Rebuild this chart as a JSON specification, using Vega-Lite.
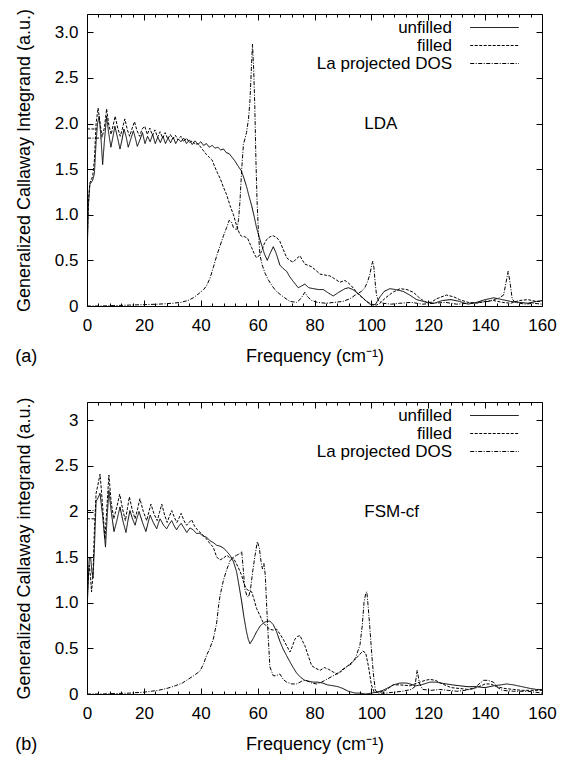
{
  "$schema": "https://vega.github.io/schema/vega-lite/v6.json",
  "padding": {"left": 14, "top": 7, "right": 5, "bottom": 3},
  "spacing": 29,
  "resolve": {"scale": {"strokeDash": "independent"}, "legend": {"strokeDash": "independent"}},
  "config": {
    "font": "Liberation Sans",
    "view": {"stroke": "black", "strokeWidth": 1},
    "axis": {"grid": false, "domain": false, "labelFont": "Liberation Sans", "labelFontSize": 17, "labelColor": "black", "titleFont": "Liberation Sans", "titleFontSize": 18, "titleFontWeight": "normal", "titleColor": "black", "tickColor": "black", "tickWidth": 1},
    "legend": {"orient": "none", "legendX": 399, "legendY": 5, "padding": 0, "symbolType": "M-5.4,0H5.4", "symbolSize": 81, "symbolStrokeWidth": 1, "symbolStrokeColor": "black", "symbolFillColor": "transparent", "symbolOpacity": 1, "labelAlign": "right", "labelOffset": -51, "labelFont": "Liberation Sans", "labelFontSize": 17, "labelColor": "black", "labelLimit": 400, "rowPadding": 0},
    "title": {"font": "Liberation Sans", "fontSize": 18, "fontWeight": "normal", "color": "black"}
  },
  "datasets": {
    "a": [
      {"s":"r1","f":0,"v":1.94},{"s":"r1","f":3.5,"v":1.94},
      {"s":"r2","f":0,"v":1.84},{"s":"r2","f":5,"v":1.84},
      {"s":"unfilled","f":0,"v":0.5},{"s":"unfilled","f":0.5,"v":1.1},{"s":"unfilled","f":1,"v":1.33},{"s":"unfilled","f":2,"v":1.38},{"s":"unfilled","f":2.6,"v":1.45},{"s":"unfilled","f":3.2,"v":1.8},{"s":"unfilled","f":3.7,"v":2.0},{"s":"unfilled","f":4.3,"v":2.08},{"s":"unfilled","f":4.9,"v":1.85},{"s":"unfilled","f":5.5,"v":1.55},{"s":"unfilled","f":6.1,"v":1.8},{"s":"unfilled","f":6.9,"v":2.08},{"s":"unfilled","f":7.6,"v":1.9},{"s":"unfilled","f":8.4,"v":1.74},{"s":"unfilled","f":9.1,"v":1.85},{"s":"unfilled","f":9.8,"v":1.97},{"s":"unfilled","f":10.7,"v":1.85},{"s":"unfilled","f":11.6,"v":1.72},{"s":"unfilled","f":12.3,"v":1.82},{"s":"unfilled","f":13.0,"v":1.94},{"s":"unfilled","f":13.8,"v":1.85},{"s":"unfilled","f":14.5,"v":1.74},{"s":"unfilled","f":15.4,"v":1.83},{"s":"unfilled","f":16.3,"v":1.92},{"s":"unfilled","f":17.0,"v":1.84},{"s":"unfilled","f":17.7,"v":1.75},{"s":"unfilled","f":18.6,"v":1.82},{"s":"unfilled","f":19.5,"v":1.9},{"s":"unfilled","f":20.4,"v":1.78},{"s":"unfilled","f":21.3,"v":1.86},{"s":"unfilled","f":22.2,"v":1.8},{"s":"unfilled","f":23.1,"v":1.88},{"s":"unfilled","f":24.0,"v":1.78},{"s":"unfilled","f":24.9,"v":1.85},{"s":"unfilled","f":25.8,"v":1.79},{"s":"unfilled","f":26.7,"v":1.86},{"s":"unfilled","f":27.6,"v":1.78},{"s":"unfilled","f":28.5,"v":1.84},{"s":"unfilled","f":29.4,"v":1.79},{"s":"unfilled","f":30.3,"v":1.85},{"s":"unfilled","f":31.2,"v":1.78},{"s":"unfilled","f":32.1,"v":1.83},{"s":"unfilled","f":33,"v":1.8},{"s":"unfilled","f":34,"v":1.84},{"s":"unfilled","f":35,"v":1.78},{"s":"unfilled","f":36,"v":1.82},{"s":"unfilled","f":37,"v":1.77},{"s":"unfilled","f":38,"v":1.81},{"s":"unfilled","f":39,"v":1.77},{"s":"unfilled","f":40,"v":1.8},{"s":"unfilled","f":41,"v":1.76},{"s":"unfilled","f":42,"v":1.78},{"s":"unfilled","f":43,"v":1.74},{"s":"unfilled","f":44,"v":1.76},{"s":"unfilled","f":45,"v":1.73},{"s":"unfilled","f":46,"v":1.74},{"s":"unfilled","f":47,"v":1.71},{"s":"unfilled","f":48,"v":1.72},{"s":"unfilled","f":49,"v":1.68},{"s":"unfilled","f":50,"v":1.67},{"s":"unfilled","f":51,"v":1.63},{"s":"unfilled","f":52,"v":1.59},{"s":"unfilled","f":53,"v":1.54},{"s":"unfilled","f":54.3,"v":1.48},{"s":"unfilled","f":55.2,"v":1.4},{"s":"unfilled","f":56.1,"v":1.31},{"s":"unfilled","f":57,"v":1.2},{"s":"unfilled","f":57.9,"v":1.1},{"s":"unfilled","f":58.8,"v":0.98},{"s":"unfilled","f":59.6,"v":0.86},{"s":"unfilled","f":60.5,"v":0.76},{"s":"unfilled","f":61.4,"v":0.67},{"s":"unfilled","f":62.4,"v":0.57},{"s":"unfilled","f":63.4,"v":0.5},{"s":"unfilled","f":64.3,"v":0.57},{"s":"unfilled","f":65.5,"v":0.65},{"s":"unfilled","f":66.5,"v":0.58},{"s":"unfilled","f":67.8,"v":0.45},{"s":"unfilled","f":69,"v":0.41},{"s":"unfilled","f":70.2,"v":0.38},{"s":"unfilled","f":71.3,"v":0.32},{"s":"unfilled","f":72.5,"v":0.27},{"s":"unfilled","f":74.3,"v":0.2},{"s":"unfilled","f":75.5,"v":0.22},{"s":"unfilled","f":76.6,"v":0.24},{"s":"unfilled","f":78,"v":0.2},{"s":"unfilled","f":79.6,"v":0.19},{"s":"unfilled","f":81.5,"v":0.18},{"s":"unfilled","f":83.1,"v":0.18},{"s":"unfilled","f":85,"v":0.14},{"s":"unfilled","f":86.6,"v":0.11},{"s":"unfilled","f":88.5,"v":0.15},{"s":"unfilled","f":90.7,"v":0.19},{"s":"unfilled","f":92,"v":0.2},{"s":"unfilled","f":93.5,"v":0.18},{"s":"unfilled","f":96,"v":0.12},{"s":"unfilled","f":98,"v":0.06},{"s":"unfilled","f":99.5,"v":0.02},{"s":"unfilled","f":100.7,"v":0.01},{"s":"unfilled","f":101.5,"v":0.02},{"s":"unfilled","f":103,"v":0.1},{"s":"unfilled","f":104.5,"v":0.16},{"s":"unfilled","f":106.5,"v":0.19},{"s":"unfilled","f":108.5,"v":0.18},{"s":"unfilled","f":111.2,"v":0.16},{"s":"unfilled","f":113.5,"v":0.12},{"s":"unfilled","f":115.9,"v":0.07},{"s":"unfilled","f":119.4,"v":0.04},{"s":"unfilled","f":122,"v":0.03},{"s":"unfilled","f":125,"v":0.06},{"s":"unfilled","f":128,"v":0.07},{"s":"unfilled","f":131,"v":0.05},{"s":"unfilled","f":134,"v":0.02},{"s":"unfilled","f":137,"v":0.04},{"s":"unfilled","f":140,"v":0.07},{"s":"unfilled","f":143,"v":0.09},{"s":"unfilled","f":146,"v":0.07},{"s":"unfilled","f":149,"v":0.05},{"s":"unfilled","f":152,"v":0.04},{"s":"unfilled","f":155,"v":0.03},{"s":"unfilled","f":158,"v":0.05},{"s":"unfilled","f":160,"v":0.06},
      {"s":"filled","f":0,"v":0.6},{"s":"filled","f":0.5,"v":1.15},{"s":"filled","f":1,"v":1.35},{"s":"filled","f":2,"v":1.42},{"s":"filled","f":2.6,"v":1.6},{"s":"filled","f":3.2,"v":2.0},{"s":"filled","f":3.9,"v":2.17},{"s":"filled","f":4.6,"v":2.0},{"s":"filled","f":5.3,"v":1.85},{"s":"filled","f":6.1,"v":1.95},{"s":"filled","f":6.9,"v":2.16},{"s":"filled","f":7.7,"v":1.98},{"s":"filled","f":8.5,"v":1.88},{"s":"filled","f":9.2,"v":1.98},{"s":"filled","f":9.9,"v":2.08},{"s":"filled","f":10.8,"v":1.95},{"s":"filled","f":11.7,"v":1.86},{"s":"filled","f":12.5,"v":1.95},{"s":"filled","f":13.3,"v":2.05},{"s":"filled","f":14.2,"v":1.93},{"s":"filled","f":15,"v":1.86},{"s":"filled","f":15.9,"v":1.95},{"s":"filled","f":16.7,"v":2.02},{"s":"filled","f":17.6,"v":1.92},{"s":"filled","f":18.5,"v":1.86},{"s":"filled","f":19.4,"v":1.94},{"s":"filled","f":20.3,"v":1.97},{"s":"filled","f":21.2,"v":1.88},{"s":"filled","f":22.1,"v":1.95},{"s":"filled","f":23,"v":1.87},{"s":"filled","f":23.9,"v":1.93},{"s":"filled","f":24.8,"v":1.85},{"s":"filled","f":25.7,"v":1.91},{"s":"filled","f":26.6,"v":1.84},{"s":"filled","f":27.5,"v":1.9},{"s":"filled","f":28.4,"v":1.83},{"s":"filled","f":29.3,"v":1.88},{"s":"filled","f":30.2,"v":1.83},{"s":"filled","f":31.1,"v":1.87},{"s":"filled","f":32,"v":1.82},{"s":"filled","f":33,"v":1.86},{"s":"filled","f":34,"v":1.8},{"s":"filled","f":35,"v":1.84},{"s":"filled","f":36,"v":1.79},{"s":"filled","f":37,"v":1.81},{"s":"filled","f":38,"v":1.77},{"s":"filled","f":39,"v":1.78},{"s":"filled","f":40,"v":1.74},{"s":"filled","f":41,"v":1.7},{"s":"filled","f":42,"v":1.66},{"s":"filled","f":43,"v":1.63},{"s":"filled","f":44,"v":1.6},{"s":"filled","f":45,"v":1.52},{"s":"filled","f":46,"v":1.45},{"s":"filled","f":46.8,"v":1.4},{"s":"filled","f":48,"v":1.3},{"s":"filled","f":49.1,"v":1.22},{"s":"filled","f":50.3,"v":1.1},{"s":"filled","f":51.5,"v":1.0},{"s":"filled","f":52.6,"v":0.88},{"s":"filled","f":53.8,"v":0.78},{"s":"filled","f":54.6,"v":0.76},{"s":"filled","f":55.5,"v":0.76},{"s":"filled","f":56.5,"v":0.74},{"s":"filled","f":57.9,"v":0.64},{"s":"filled","f":59,"v":0.56},{"s":"filled","f":59.6,"v":0.53},{"s":"filled","f":60.5,"v":0.55},{"s":"filled","f":61.4,"v":0.6},{"s":"filled","f":62.3,"v":0.68},{"s":"filled","f":63.2,"v":0.73},{"s":"filled","f":64.4,"v":0.76},{"s":"filled","f":65.5,"v":0.77},{"s":"filled","f":66.7,"v":0.75},{"s":"filled","f":67.8,"v":0.71},{"s":"filled","f":69,"v":0.62},{"s":"filled","f":70.2,"v":0.53},{"s":"filled","f":71.3,"v":0.5},{"s":"filled","f":72.5,"v":0.48},{"s":"filled","f":73.7,"v":0.52},{"s":"filled","f":74.9,"v":0.55},{"s":"filled","f":75.8,"v":0.5},{"s":"filled","f":76.6,"v":0.46},{"s":"filled","f":79,"v":0.43},{"s":"filled","f":80.5,"v":0.39},{"s":"filled","f":81.9,"v":0.35},{"s":"filled","f":83.5,"v":0.34},{"s":"filled","f":85.4,"v":0.33},{"s":"filled","f":87,"v":0.3},{"s":"filled","f":88.9,"v":0.26},{"s":"filled","f":90.7,"v":0.28},{"s":"filled","f":92,"v":0.25},{"s":"filled","f":93,"v":0.22},{"s":"filled","f":95.4,"v":0.13},{"s":"filled","f":98.3,"v":0.05},{"s":"filled","f":100,"v":0.02},{"s":"filled","f":101.8,"v":0.01},{"s":"filled","f":103,"v":0.03},{"s":"filled","f":105,"v":0.09},{"s":"filled","f":107.5,"v":0.15},{"s":"filled","f":110.1,"v":0.19},{"s":"filled","f":112.5,"v":0.18},{"s":"filled","f":114.8,"v":0.15},{"s":"filled","f":116.5,"v":0.1},{"s":"filled","f":117.7,"v":0.07},{"s":"filled","f":119.5,"v":0.04},{"s":"filled","f":121,"v":0.04},{"s":"filled","f":123,"v":0.08},{"s":"filled","f":126.4,"v":0.12},{"s":"filled","f":129,"v":0.1},{"s":"filled","f":131,"v":0.07},{"s":"filled","f":134,"v":0.04},{"s":"filled","f":137,"v":0.03},{"s":"filled","f":140,"v":0.05},{"s":"filled","f":143,"v":0.06},{"s":"filled","f":146,"v":0.04},{"s":"filled","f":149,"v":0.03},{"s":"filled","f":152,"v":0.06},{"s":"filled","f":155,"v":0.07},{"s":"filled","f":158,"v":0.05},{"s":"filled","f":160,"v":0.05},
      {"s":"La projected DOS","f":0,"v":0},{"s":"La projected DOS","f":5,"v":0},{"s":"La projected DOS","f":10,"v":0.005},{"s":"La projected DOS","f":15,"v":0.01},{"s":"La projected DOS","f":20,"v":0.015},{"s":"La projected DOS","f":25,"v":0.02},{"s":"La projected DOS","f":30,"v":0.03},{"s":"La projected DOS","f":33,"v":0.04},{"s":"La projected DOS","f":35.5,"v":0.06},{"s":"La projected DOS","f":37.4,"v":0.09},{"s":"La projected DOS","f":39.5,"v":0.14},{"s":"La projected DOS","f":41,"v":0.18},{"s":"La projected DOS","f":42,"v":0.22},{"s":"La projected DOS","f":43.2,"v":0.3},{"s":"La projected DOS","f":44.4,"v":0.42},{"s":"La projected DOS","f":45.6,"v":0.55},{"s":"La projected DOS","f":46.8,"v":0.66},{"s":"La projected DOS","f":48,"v":0.77},{"s":"La projected DOS","f":49.1,"v":0.86},{"s":"La projected DOS","f":50,"v":0.94},{"s":"La projected DOS","f":50.8,"v":0.92},{"s":"La projected DOS","f":51.5,"v":0.86},{"s":"La projected DOS","f":52.7,"v":0.83},{"s":"La projected DOS","f":53.3,"v":0.95},{"s":"La projected DOS","f":53.8,"v":1.15},{"s":"La projected DOS","f":54.4,"v":1.5},{"s":"La projected DOS","f":55,"v":1.77},{"s":"La projected DOS","f":56.1,"v":1.9},{"s":"La projected DOS","f":56.8,"v":2.05},{"s":"La projected DOS","f":57.3,"v":2.25},{"s":"La projected DOS","f":57.8,"v":2.6},{"s":"La projected DOS","f":58.2,"v":2.87},{"s":"La projected DOS","f":58.6,"v":2.6},{"s":"La projected DOS","f":59,"v":2.2},{"s":"La projected DOS","f":59.4,"v":1.6},{"s":"La projected DOS","f":59.8,"v":1.15},{"s":"La projected DOS","f":60.3,"v":0.8},{"s":"La projected DOS","f":60.8,"v":0.56},{"s":"La projected DOS","f":61.6,"v":0.45},{"s":"La projected DOS","f":62.6,"v":0.36},{"s":"La projected DOS","f":63.7,"v":0.29},{"s":"La projected DOS","f":64.9,"v":0.23},{"s":"La projected DOS","f":66.3,"v":0.17},{"s":"La projected DOS","f":67.8,"v":0.13},{"s":"La projected DOS","f":69.5,"v":0.09},{"s":"La projected DOS","f":71.4,"v":0.05},{"s":"La projected DOS","f":73.7,"v":0.04},{"s":"La projected DOS","f":75.2,"v":0.08},{"s":"La projected DOS","f":76.6,"v":0.15},{"s":"La projected DOS","f":77.6,"v":0.1},{"s":"La projected DOS","f":79,"v":0.06},{"s":"La projected DOS","f":81,"v":0.04},{"s":"La projected DOS","f":84,"v":0.03},{"s":"La projected DOS","f":87,"v":0.04},{"s":"La projected DOS","f":90,"v":0.05},{"s":"La projected DOS","f":92.5,"v":0.08},{"s":"La projected DOS","f":94.8,"v":0.13},{"s":"La projected DOS","f":96.5,"v":0.16},{"s":"La projected DOS","f":97.7,"v":0.2},{"s":"La projected DOS","f":98.7,"v":0.27},{"s":"La projected DOS","f":99.5,"v":0.35},{"s":"La projected DOS","f":100.1,"v":0.45},{"s":"La projected DOS","f":100.5,"v":0.49},{"s":"La projected DOS","f":100.9,"v":0.42},{"s":"La projected DOS","f":101.3,"v":0.27},{"s":"La projected DOS","f":101.8,"v":0.12},{"s":"La projected DOS","f":102.5,"v":0.06},{"s":"La projected DOS","f":104,"v":0.03},{"s":"La projected DOS","f":107,"v":0.02},{"s":"La projected DOS","f":110,"v":0.03},{"s":"La projected DOS","f":114,"v":0.04},{"s":"La projected DOS","f":118,"v":0.02},{"s":"La projected DOS","f":122,"v":0.03},{"s":"La projected DOS","f":126,"v":0.04},{"s":"La projected DOS","f":130,"v":0.02},{"s":"La projected DOS","f":134,"v":0.03},{"s":"La projected DOS","f":138,"v":0.04},{"s":"La projected DOS","f":141,"v":0.05},{"s":"La projected DOS","f":143,"v":0.07},{"s":"La projected DOS","f":145,"v":0.09},{"s":"La projected DOS","f":146.5,"v":0.12},{"s":"La projected DOS","f":147.3,"v":0.25},{"s":"La projected DOS","f":148.1,"v":0.38},{"s":"La projected DOS","f":148.8,"v":0.25},{"s":"La projected DOS","f":149.5,"v":0.08},{"s":"La projected DOS","f":150.5,"v":0.04},{"s":"La projected DOS","f":154,"v":0.02},{"s":"La projected DOS","f":157,"v":0.03},{"s":"La projected DOS","f":160,"v":0.02}
    ],
    "b": [
      {"s":"r1","f":0,"v":1.92},{"s":"r1","f":3,"v":1.92},
      {"s":"r2","f":0,"v":2.01},{"s":"r2","f":3,"v":2.01},
      {"s":"unfilled","f":0,"v":0.9},{"s":"unfilled","f":0.4,"v":1.2},{"s":"unfilled","f":0.8,"v":1.49},{"s":"unfilled","f":1.3,"v":1.49},{"s":"unfilled","f":1.7,"v":1.35},{"s":"unfilled","f":2.1,"v":1.27},{"s":"unfilled","f":2.6,"v":1.6},{"s":"unfilled","f":3.2,"v":2.11},{"s":"unfilled","f":3.9,"v":2.15},{"s":"unfilled","f":4.6,"v":2.2},{"s":"unfilled","f":5.5,"v":1.95},{"s":"unfilled","f":6.5,"v":1.61},{"s":"unfilled","f":7.1,"v":1.95},{"s":"unfilled","f":7.7,"v":2.23},{"s":"unfilled","f":8.6,"v":1.98},{"s":"unfilled","f":9.5,"v":1.78},{"s":"unfilled","f":10.5,"v":1.9},{"s":"unfilled","f":11.6,"v":2.05},{"s":"unfilled","f":12.6,"v":1.9},{"s":"unfilled","f":13.7,"v":1.77},{"s":"unfilled","f":14.4,"v":1.9},{"s":"unfilled","f":15.1,"v":2.01},{"s":"unfilled","f":16,"v":1.92},{"s":"unfilled","f":16.9,"v":1.85},{"s":"unfilled","f":17.6,"v":1.93},{"s":"unfilled","f":18.3,"v":2.0},{"s":"unfilled","f":19.5,"v":1.88},{"s":"unfilled","f":20.7,"v":1.78},{"s":"unfilled","f":21.5,"v":1.88},{"s":"unfilled","f":22.2,"v":1.96},{"s":"unfilled","f":23.3,"v":1.88},{"s":"unfilled","f":24.5,"v":1.81},{"s":"unfilled","f":25.1,"v":1.87},{"s":"unfilled","f":25.7,"v":1.92},{"s":"unfilled","f":26.9,"v":1.85},{"s":"unfilled","f":28,"v":1.81},{"s":"unfilled","f":28.9,"v":1.86},{"s":"unfilled","f":29.8,"v":1.9},{"s":"unfilled","f":30.7,"v":1.84},{"s":"unfilled","f":31.5,"v":1.8},{"s":"unfilled","f":32.3,"v":1.84},{"s":"unfilled","f":33.1,"v":1.87},{"s":"unfilled","f":34.1,"v":1.82},{"s":"unfilled","f":35.1,"v":1.77},{"s":"unfilled","f":36.2,"v":1.82},{"s":"unfilled","f":37.3,"v":1.8},{"s":"unfilled","f":38.5,"v":1.76},{"s":"unfilled","f":39.7,"v":1.76},{"s":"unfilled","f":40.8,"v":1.73},{"s":"unfilled","f":42,"v":1.72},{"s":"unfilled","f":43.2,"v":1.68},{"s":"unfilled","f":44.4,"v":1.66},{"s":"unfilled","f":45.6,"v":1.63},{"s":"unfilled","f":46.8,"v":1.62},{"s":"unfilled","f":48,"v":1.6},{"s":"unfilled","f":49.2,"v":1.56},{"s":"unfilled","f":50.3,"v":1.52},{"s":"unfilled","f":51.5,"v":1.45},{"s":"unfilled","f":52.6,"v":1.34},{"s":"unfilled","f":53.5,"v":1.18},{"s":"unfilled","f":54.4,"v":1.01},{"s":"unfilled","f":55.2,"v":0.84},{"s":"unfilled","f":56.1,"v":0.68},{"s":"unfilled","f":56.7,"v":0.6},{"s":"unfilled","f":57.3,"v":0.55},{"s":"unfilled","f":58.3,"v":0.6},{"s":"unfilled","f":59.6,"v":0.68},{"s":"unfilled","f":61,"v":0.75},{"s":"unfilled","f":62.6,"v":0.79},{"s":"unfilled","f":64.3,"v":0.8},{"s":"unfilled","f":65.5,"v":0.76},{"s":"unfilled","f":66.7,"v":0.68},{"s":"unfilled","f":67.8,"v":0.58},{"s":"unfilled","f":69,"v":0.49},{"s":"unfilled","f":70.2,"v":0.42},{"s":"unfilled","f":71.4,"v":0.35},{"s":"unfilled","f":72.5,"v":0.29},{"s":"unfilled","f":73.7,"v":0.23},{"s":"unfilled","f":75.2,"v":0.18},{"s":"unfilled","f":76.6,"v":0.15},{"s":"unfilled","f":78,"v":0.14},{"s":"unfilled","f":79.6,"v":0.13},{"s":"unfilled","f":81.2,"v":0.13},{"s":"unfilled","f":82.9,"v":0.12},{"s":"unfilled","f":84.5,"v":0.1},{"s":"unfilled","f":86.6,"v":0.09},{"s":"unfilled","f":88.3,"v":0.08},{"s":"unfilled","f":90,"v":0.06},{"s":"unfilled","f":91.9,"v":0.03},{"s":"unfilled","f":94.3,"v":0.01},{"s":"unfilled","f":96,"v":0.01},{"s":"unfilled","f":98,"v":0.0},{"s":"unfilled","f":100,"v":0.01},{"s":"unfilled","f":102,"v":0.02},{"s":"unfilled","f":104,"v":0.04},{"s":"unfilled","f":106,"v":0.07},{"s":"unfilled","f":107.7,"v":0.1},{"s":"unfilled","f":110,"v":0.12},{"s":"unfilled","f":112.4,"v":0.12},{"s":"unfilled","f":113.6,"v":0.11},{"s":"unfilled","f":115.5,"v":0.09},{"s":"unfilled","f":117.5,"v":0.1},{"s":"unfilled","f":120.6,"v":0.13},{"s":"unfilled","f":122.6,"v":0.13},{"s":"unfilled","f":124.5,"v":0.12},{"s":"unfilled","f":126.4,"v":0.11},{"s":"unfilled","f":128.5,"v":0.1},{"s":"unfilled","f":131.1,"v":0.09},{"s":"unfilled","f":134,"v":0.08},{"s":"unfilled","f":137,"v":0.08},{"s":"unfilled","f":140,"v":0.07},{"s":"unfilled","f":143,"v":0.09},{"s":"unfilled","f":145.5,"v":0.1},{"s":"unfilled","f":147.5,"v":0.11},{"s":"unfilled","f":150,"v":0.1},{"s":"unfilled","f":153,"v":0.08},{"s":"unfilled","f":156,"v":0.06},{"s":"unfilled","f":158,"v":0.05},{"s":"unfilled","f":160,"v":0.05},
      {"s":"filled","f":0,"v":1.0},{"s":"filled","f":0.4,"v":1.25},{"s":"filled","f":0.8,"v":1.41},{"s":"filled","f":1.2,"v":1.3},{"s":"filled","f":1.6,"v":1.12},{"s":"filled","f":2.1,"v":1.3},{"s":"filled","f":2.6,"v":1.8},{"s":"filled","f":3.2,"v":2.2},{"s":"filled","f":3.9,"v":2.3},{"s":"filled","f":4.6,"v":2.41},{"s":"filled","f":5.4,"v":2.1},{"s":"filled","f":6.3,"v":1.7},{"s":"filled","f":7,"v":2.05},{"s":"filled","f":7.7,"v":2.4},{"s":"filled","f":8.5,"v":2.1},{"s":"filled","f":9.4,"v":1.92},{"s":"filled","f":10.5,"v":2.05},{"s":"filled","f":11.5,"v":2.19},{"s":"filled","f":12.5,"v":2.03},{"s":"filled","f":13.5,"v":1.9},{"s":"filled","f":14.2,"v":2.03},{"s":"filled","f":14.9,"v":2.16},{"s":"filled","f":15.9,"v":2.02},{"s":"filled","f":16.9,"v":1.92},{"s":"filled","f":17.8,"v":2.03},{"s":"filled","f":18.6,"v":2.14},{"s":"filled","f":19.8,"v":2.0},{"s":"filled","f":21,"v":1.9},{"s":"filled","f":21.7,"v":1.99},{"s":"filled","f":22.5,"v":2.08},{"s":"filled","f":23.6,"v":1.97},{"s":"filled","f":24.7,"v":1.9},{"s":"filled","f":25.5,"v":1.99},{"s":"filled","f":26.3,"v":2.08},{"s":"filled","f":27.3,"v":1.96},{"s":"filled","f":28.2,"v":1.88},{"s":"filled","f":29,"v":1.95},{"s":"filled","f":29.8,"v":2.01},{"s":"filled","f":30.8,"v":1.93},{"s":"filled","f":31.6,"v":1.88},{"s":"filled","f":32.4,"v":1.93},{"s":"filled","f":33.1,"v":1.98},{"s":"filled","f":34.1,"v":1.9},{"s":"filled","f":35,"v":1.85},{"s":"filled","f":35.9,"v":1.88},{"s":"filled","f":36.8,"v":1.91},{"s":"filled","f":37.8,"v":1.84},{"s":"filled","f":38.8,"v":1.8},{"s":"filled","f":39.8,"v":1.77},{"s":"filled","f":40.9,"v":1.74},{"s":"filled","f":42,"v":1.7},{"s":"filled","f":43.2,"v":1.65},{"s":"filled","f":44.4,"v":1.61},{"s":"filled","f":45.6,"v":1.5},{"s":"filled","f":46.8,"v":1.47},{"s":"filled","f":48,"v":1.49},{"s":"filled","f":49.2,"v":1.52},{"s":"filled","f":50.3,"v":1.49},{"s":"filled","f":51.5,"v":1.49},{"s":"filled","f":53,"v":1.4},{"s":"filled","f":54.4,"v":1.3},{"s":"filled","f":55.3,"v":1.2},{"s":"filled","f":56.1,"v":1.15},{"s":"filled","f":57,"v":1.13},{"s":"filled","f":57.9,"v":1.12},{"s":"filled","f":58.8,"v":1.03},{"s":"filled","f":59.6,"v":0.94},{"s":"filled","f":60.8,"v":0.86},{"s":"filled","f":62,"v":0.78},{"s":"filled","f":63.2,"v":0.74},{"s":"filled","f":64.3,"v":0.71},{"s":"filled","f":65.5,"v":0.7},{"s":"filled","f":66.7,"v":0.71},{"s":"filled","f":67.8,"v":0.66},{"s":"filled","f":69,"v":0.6},{"s":"filled","f":70.2,"v":0.53},{"s":"filled","f":71.4,"v":0.46},{"s":"filled","f":72.2,"v":0.52},{"s":"filled","f":73.1,"v":0.6},{"s":"filled","f":74,"v":0.63},{"s":"filled","f":74.9,"v":0.64},{"s":"filled","f":75.8,"v":0.58},{"s":"filled","f":76.6,"v":0.53},{"s":"filled","f":77.8,"v":0.42},{"s":"filled","f":79,"v":0.31},{"s":"filled","f":80.5,"v":0.28},{"s":"filled","f":82,"v":0.26},{"s":"filled","f":83.5,"v":0.29},{"s":"filled","f":85,"v":0.27},{"s":"filled","f":86.6,"v":0.24},{"s":"filled","f":88,"v":0.22},{"s":"filled","f":89.5,"v":0.25},{"s":"filled","f":91,"v":0.29},{"s":"filled","f":92.5,"v":0.33},{"s":"filled","f":94,"v":0.37},{"s":"filled","f":95.5,"v":0.42},{"s":"filled","f":97,"v":0.47},{"s":"filled","f":98,"v":0.45},{"s":"filled","f":99,"v":0.3},{"s":"filled","f":100,"v":0.1},{"s":"filled","f":101,"v":0.02},{"s":"filled","f":103,"v":0.02},{"s":"filled","f":105,"v":0.04},{"s":"filled","f":107.7,"v":0.1},{"s":"filled","f":110,"v":0.1},{"s":"filled","f":113.6,"v":0.09},{"s":"filled","f":117,"v":0.13},{"s":"filled","f":119,"v":0.15},{"s":"filled","f":120.6,"v":0.16},{"s":"filled","f":122.5,"v":0.15},{"s":"filled","f":125,"v":0.11},{"s":"filled","f":128,"v":0.07},{"s":"filled","f":131.1,"v":0.06},{"s":"filled","f":134,"v":0.05},{"s":"filled","f":137,"v":0.07},{"s":"filled","f":140,"v":0.11},{"s":"filled","f":142,"v":0.11},{"s":"filled","f":144,"v":0.08},{"s":"filled","f":147,"v":0.06},{"s":"filled","f":150,"v":0.05},{"s":"filled","f":153,"v":0.04},{"s":"filled","f":156,"v":0.04},{"s":"filled","f":160,"v":0.04},
      {"s":"La projected DOS","f":0,"v":0},{"s":"La projected DOS","f":5,"v":0},{"s":"La projected DOS","f":10,"v":0.005},{"s":"La projected DOS","f":15,"v":0.01},{"s":"La projected DOS","f":20,"v":0.02},{"s":"La projected DOS","f":25,"v":0.04},{"s":"La projected DOS","f":28,"v":0.06},{"s":"La projected DOS","f":31,"v":0.09},{"s":"La projected DOS","f":33.5,"v":0.12},{"s":"La projected DOS","f":35.5,"v":0.16},{"s":"La projected DOS","f":37.5,"v":0.2},{"s":"La projected DOS","f":39.7,"v":0.25},{"s":"La projected DOS","f":41,"v":0.33},{"s":"La projected DOS","f":42,"v":0.42},{"s":"La projected DOS","f":43.2,"v":0.5},{"s":"La projected DOS","f":44.4,"v":0.6},{"s":"La projected DOS","f":45.6,"v":0.78},{"s":"La projected DOS","f":46.2,"v":0.95},{"s":"La projected DOS","f":46.8,"v":1.08},{"s":"La projected DOS","f":48,"v":1.25},{"s":"La projected DOS","f":49.1,"v":1.36},{"s":"La projected DOS","f":50.3,"v":1.46},{"s":"La projected DOS","f":51.5,"v":1.5},{"s":"La projected DOS","f":52.6,"v":1.52},{"s":"La projected DOS","f":53.8,"v":1.54},{"s":"La projected DOS","f":54.4,"v":1.56},{"s":"La projected DOS","f":55,"v":1.35},{"s":"La projected DOS","f":55.5,"v":1.15},{"s":"La projected DOS","f":56.2,"v":1.08},{"s":"La projected DOS","f":56.8,"v":1.06},{"s":"La projected DOS","f":57.5,"v":1.15},{"s":"La projected DOS","f":58.3,"v":1.35},{"s":"La projected DOS","f":59.1,"v":1.52},{"s":"La projected DOS","f":59.9,"v":1.67},{"s":"La projected DOS","f":60.6,"v":1.6},{"s":"La projected DOS","f":61.2,"v":1.45},{"s":"La projected DOS","f":61.7,"v":1.37},{"s":"La projected DOS","f":62.2,"v":1.43},{"s":"La projected DOS","f":62.7,"v":1.3},{"s":"La projected DOS","f":63.2,"v":0.95},{"s":"La projected DOS","f":63.7,"v":0.64},{"s":"La projected DOS","f":64.3,"v":0.3},{"s":"La projected DOS","f":65.5,"v":0.2},{"s":"La projected DOS","f":66.5,"v":0.2},{"s":"La projected DOS","f":67.8,"v":0.22},{"s":"La projected DOS","f":69,"v":0.16},{"s":"La projected DOS","f":70.2,"v":0.13},{"s":"La projected DOS","f":72,"v":0.11},{"s":"La projected DOS","f":73.7,"v":0.11},{"s":"La projected DOS","f":75.5,"v":0.14},{"s":"La projected DOS","f":77,"v":0.15},{"s":"La projected DOS","f":79,"v":0.12},{"s":"La projected DOS","f":80.8,"v":0.11},{"s":"La projected DOS","f":82.5,"v":0.13},{"s":"La projected DOS","f":84.3,"v":0.16},{"s":"La projected DOS","f":86,"v":0.19},{"s":"La projected DOS","f":87.8,"v":0.22},{"s":"La projected DOS","f":89.5,"v":0.26},{"s":"La projected DOS","f":91.3,"v":0.3},{"s":"La projected DOS","f":93,"v":0.33},{"s":"La projected DOS","f":94.5,"v":0.4},{"s":"La projected DOS","f":96,"v":0.54},{"s":"La projected DOS","f":96.8,"v":0.75},{"s":"La projected DOS","f":97.4,"v":1.0},{"s":"La projected DOS","f":98,"v":1.1},{"s":"La projected DOS","f":98.4,"v":1.12},{"s":"La projected DOS","f":98.9,"v":0.95},{"s":"La projected DOS","f":99.5,"v":0.71},{"s":"La projected DOS","f":100.1,"v":0.45},{"s":"La projected DOS","f":100.7,"v":0.22},{"s":"La projected DOS","f":101.4,"v":0.04},{"s":"La projected DOS","f":102.5,"v":0.01},{"s":"La projected DOS","f":105,"v":0.01},{"s":"La projected DOS","f":108,"v":0.02},{"s":"La projected DOS","f":111,"v":0.03},{"s":"La projected DOS","f":114,"v":0.05},{"s":"La projected DOS","f":115.3,"v":0.08},{"s":"La projected DOS","f":116.1,"v":0.26},{"s":"La projected DOS","f":116.9,"v":0.12},{"s":"La projected DOS","f":118,"v":0.05},{"s":"La projected DOS","f":121,"v":0.04},{"s":"La projected DOS","f":124,"v":0.05},{"s":"La projected DOS","f":127,"v":0.04},{"s":"La projected DOS","f":130,"v":0.03},{"s":"La projected DOS","f":133,"v":0.04},{"s":"La projected DOS","f":136,"v":0.06},{"s":"La projected DOS","f":137.5,"v":0.1},{"s":"La projected DOS","f":139.4,"v":0.15},{"s":"La projected DOS","f":141,"v":0.15},{"s":"La projected DOS","f":142.9,"v":0.13},{"s":"La projected DOS","f":144.5,"v":0.07},{"s":"La projected DOS","f":146,"v":0.04},{"s":"La projected DOS","f":150,"v":0.03},{"s":"La projected DOS","f":155,"v":0.03},{"s":"La projected DOS","f":160,"v":0.01}
    ]
  },
  "vconcat": [
    {
      "width": 455, "height": 292,
      "title": {"text": "(a)", "orient": "bottom", "anchor": "start", "frame": "bounds", "offset": -17},
      "data": {"name": "a"},
      "layer": [
        {
          "mark": {"type": "line", "color": "black", "strokeWidth": 1, "clip": true},
          "encoding": {
            "x": {"field": "f", "type": "quantitative", "scale": {"domain": [0, 160], "nice": false}, "axis": {"orient": "bottom", "values": [0,20,40,60,80,100,120,140,160], "ticks": false, "labelPadding": 11, "labelFlush": false, "title": "Frequency (cm⁻¹)", "titlePadding": 14}},
            "y": {"field": "v", "type": "quantitative", "scale": {"domain": [0, 3.2], "nice": false}, "axis": {"orient": "left", "values": [0,0.5,1,1.5,2,2.5,3], "ticks": false, "labelPadding": 9, "labelExpr": "datum.value == 0 ? '0' : format(datum.value, '.1f')", "title": "Generalized Callaway Integrand (a.u.)", "titlePadding": 21}},
            "strokeDash": {"field": "s", "type": "nominal", "scale": {"domain": ["unfilled", "filled", "La projected DOS", "r1", "r2"], "range": [[1, 0], [3, 1.5], [4, 1.5, 1, 1.5], [3, 1.5], [4, 1.5, 1, 1.5]]}, "legend": {"title": null, "values": ["unfilled", "filled", "La projected DOS"]}}
          }
        },
        {
          "mark": {"type": "point", "opacity": 0},
          "encoding": {
            "x": {"field": "f", "type": "quantitative", "axis": {"orient": "bottom", "values": [0,20,40,60,80,100,120,140,160], "tickSize": -6, "labels": false, "title": null}},
            "y": {"field": "v", "type": "quantitative", "axis": {"orient": "left", "values": [0,0.5,1,1.5,2,2.5,3], "tickSize": -6, "labels": false, "title": null}}
          }
        },
        {
          "mark": {"type": "point", "opacity": 0},
          "encoding": {
            "x": {"field": "f", "type": "quantitative", "axis": {"orient": "top", "values": [0,20,40,60,80,100,120,140,160], "tickSize": -6, "labels": false, "title": null}},
            "y": {"field": "v", "type": "quantitative", "axis": {"orient": "right", "values": [0,0.5,1,1.5,2,2.5,3], "tickSize": -6, "labels": false, "title": null}}
          }
        },
        {
          "mark": {"type": "point", "opacity": 0},
          "encoding": {
            "x": {"field": "f", "type": "quantitative", "axis": {"orient": "bottom", "values": [4,8,12,16,24,28,32,36,44,48,52,56,64,68,72,76,84,88,92,96,104,108,112,116,124,128,132,136,144,148,152,156], "tickSize": -3, "labels": false, "title": null}},
            "y": {"field": "v", "type": "quantitative", "axis": null}
          }
        },
        {
          "mark": {"type": "point", "opacity": 0},
          "encoding": {
            "x": {"field": "f", "type": "quantitative", "axis": {"orient": "top", "values": [4,8,12,16,24,28,32,36,44,48,52,56,64,68,72,76,84,88,92,96,104,108,112,116,124,128,132,136,144,148,152,156], "tickSize": -3, "labels": false, "title": null}},
            "y": {"field": "v", "type": "quantitative", "axis": null}
          }
        },
        {
          "data": {"values": [{"f": 97.5, "v": 2.0, "t": "LDA"}]},
          "mark": {"type": "text", "align": "left", "baseline": "middle", "fontSize": 17, "font": "Liberation Sans", "color": "black"},
          "encoding": {
            "x": {"field": "f", "type": "quantitative", "axis": null},
            "y": {"field": "v", "type": "quantitative", "axis": null},
            "text": {"field": "t"}
          }
        }
      ],
      "resolve": {"axis": {"x": "independent", "y": "independent"}}
    },
    {
      "width": 455, "height": 292,
      "title": {"text": "(b)", "orient": "bottom", "anchor": "start", "frame": "bounds", "offset": -17},
      "data": {"name": "b"},
      "layer": [
        {
          "mark": {"type": "line", "color": "black", "strokeWidth": 1, "clip": true},
          "encoding": {
            "x": {"field": "f", "type": "quantitative", "scale": {"domain": [0, 160], "nice": false}, "axis": {"orient": "bottom", "values": [0,20,40,60,80,100,120,140,160], "ticks": false, "labelPadding": 11, "labelFlush": false, "title": "Frequency (cm⁻¹)", "titlePadding": 14}},
            "y": {"field": "v", "type": "quantitative", "scale": {"domain": [0, 3.2], "nice": false}, "axis": {"orient": "left", "values": [0,0.5,1,1.5,2,2.5,3], "ticks": false, "labelPadding": 9, "labelExpr": "datum.value == 0 ? '0' : datum.value == 2 ? '2' : datum.value == 3 ? '3' : format(datum.value, '.1f')", "title": "Generalized Callaway integrand (a.u.)", "titlePadding": 21}},
            "strokeDash": {"field": "s", "type": "nominal", "scale": {"domain": ["unfilled", "filled", "La projected DOS", "r1", "r2"], "range": [[1, 0], [3, 1.5], [4, 1.5, 1, 1.5], [3, 1.5], [4, 1.5, 1, 1.5]]}, "legend": {"title": null, "values": ["unfilled", "filled", "La projected DOS"]}}
          }
        },
        {
          "mark": {"type": "point", "opacity": 0},
          "encoding": {
            "x": {"field": "f", "type": "quantitative", "axis": {"orient": "bottom", "values": [0,20,40,60,80,100,120,140,160], "tickSize": -6, "labels": false, "title": null}},
            "y": {"field": "v", "type": "quantitative", "axis": {"orient": "left", "values": [0,0.5,1,1.5,2,2.5,3], "tickSize": -6, "labels": false, "title": null}}
          }
        },
        {
          "mark": {"type": "point", "opacity": 0},
          "encoding": {
            "x": {"field": "f", "type": "quantitative", "axis": {"orient": "top", "values": [0,20,40,60,80,100,120,140,160], "tickSize": -6, "labels": false, "title": null}},
            "y": {"field": "v", "type": "quantitative", "axis": {"orient": "right", "values": [0,0.5,1,1.5,2,2.5,3], "tickSize": -6, "labels": false, "title": null}}
          }
        },
        {
          "mark": {"type": "point", "opacity": 0},
          "encoding": {
            "x": {"field": "f", "type": "quantitative", "axis": {"orient": "bottom", "values": [4,8,12,16,24,28,32,36,44,48,52,56,64,68,72,76,84,88,92,96,104,108,112,116,124,128,132,136,144,148,152,156], "tickSize": -3, "labels": false, "title": null}},
            "y": {"field": "v", "type": "quantitative", "axis": null}
          }
        },
        {
          "mark": {"type": "point", "opacity": 0},
          "encoding": {
            "x": {"field": "f", "type": "quantitative", "axis": {"orient": "top", "values": [4,8,12,16,24,28,32,36,44,48,52,56,64,68,72,76,84,88,92,96,104,108,112,116,124,128,132,136,144,148,152,156], "tickSize": -3, "labels": false, "title": null}},
            "y": {"field": "v", "type": "quantitative", "axis": null}
          }
        },
        {
          "data": {"values": [{"f": 97.5, "v": 2.0, "t": "FSM-cf"}]},
          "mark": {"type": "text", "align": "left", "baseline": "middle", "fontSize": 17, "font": "Liberation Sans", "color": "black"},
          "encoding": {
            "x": {"field": "f", "type": "quantitative", "axis": null},
            "y": {"field": "v", "type": "quantitative", "axis": null},
            "text": {"field": "t"}
          }
        }
      ],
      "resolve": {"axis": {"x": "independent", "y": "independent"}}
    }
  ]
}
